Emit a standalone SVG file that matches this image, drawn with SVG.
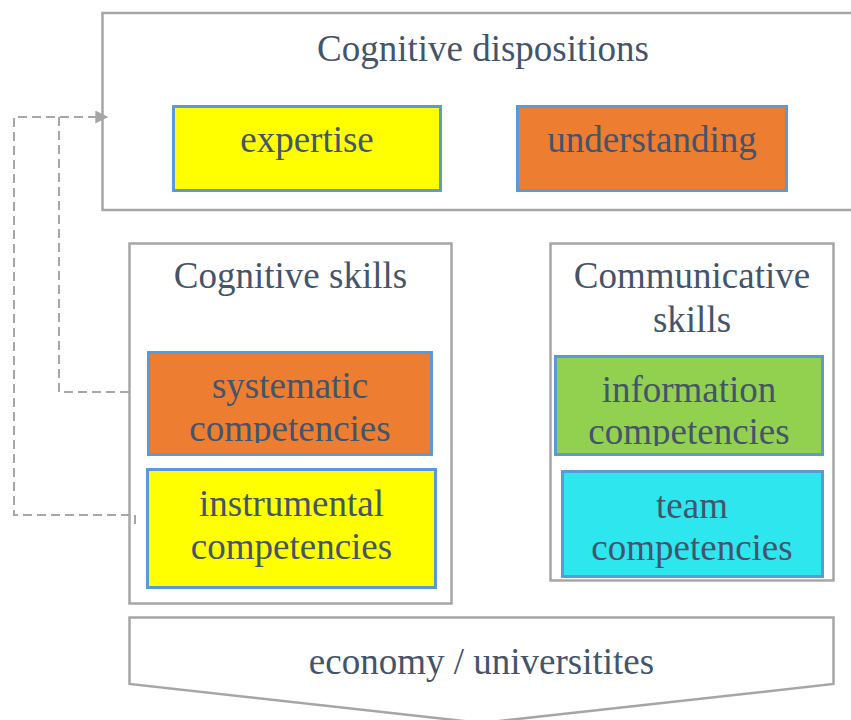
<svg xmlns="http://www.w3.org/2000/svg" width="851" height="720" viewBox="0 0 851 720">
  <style>
    .frame { fill: #ffffff; stroke: #a6a6a6; stroke-width: 2.5; }
    .item { stroke: #5b9bd5; stroke-width: 3; }
    .label { font-family: "Liberation Serif", "Times New Roman", serif; font-size: 37px; fill: #44546a; text-anchor: middle; }
    .link { fill: none; stroke: #a6a6a6; stroke-width: 2; stroke-dasharray: 9 5; }
  </style>
  <defs>
    <marker id="arrow" viewBox="0 0 10 10" refX="9" refY="5" markerWidth="14" markerHeight="13" markerUnits="userSpaceOnUse" orient="auto">
      <path d="M0,0 L10,5 L0,10 Z" fill="#a6a6a6"/>
    </marker>
    <clipPath id="clipSys"><rect x="148" y="352" width="284" height="91"/></clipPath>
    <clipPath id="clipInfo"><rect x="555" y="356" width="268" height="90"/></clipPath>
  </defs>

  <rect width="851" height="720" fill="#ffffff"/>

  <!-- Cognitive dispositions -->
  <g id="cognitive-dispositions">
    <rect class="frame" x="102.5" y="13" width="770" height="197"/>
    <text class="label" x="483" y="61">Cognitive dispositions</text>
  </g>
  <g id="expertise">
    <rect class="item" x="173.5" y="106.5" width="267" height="84" fill="#ffff00"/>
    <text class="label" x="307" y="152">expertise</text>
  </g>
  <g id="understanding">
    <rect class="item" x="517.5" y="106.5" width="269" height="84" fill="#ed7d31"/>
    <text class="label" x="652" y="152">understanding</text>
  </g>

  <!-- Cognitive skills -->
  <g id="cognitive-skills">
    <rect class="frame" x="129.5" y="243.5" width="322" height="360"/>
    <text class="label" x="290.5" y="288">Cognitive skills</text>
  </g>
  <g id="systematic-competencies">
    <rect class="item" x="148.5" y="352.5" width="283" height="102" fill="#ed7d31"/>
    <text class="label" clip-path="url(#clipSys)"><tspan x="290" y="398">systematic</tspan><tspan x="290" y="441">competencies</tspan></text>
  </g>
  <g id="instrumental-competencies">
    <rect class="item" x="147.5" y="469.5" width="288" height="118" fill="#ffff00"/>
    <text class="label"><tspan x="291.5" y="516">instrumental</tspan><tspan x="291.5" y="559">competencies</tspan></text>
  </g>

  <!-- Communicative skills -->
  <g id="communicative-skills">
    <rect class="frame" x="550.5" y="243.5" width="283" height="337"/>
    <text class="label"><tspan x="692" y="288">Communicative</tspan><tspan x="692" y="332">skills</tspan></text>
  </g>
  <g id="information-competencies">
    <rect class="item" x="555.5" y="356.5" width="267" height="98" fill="#92d050"/>
    <text class="label" clip-path="url(#clipInfo)"><tspan x="689" y="402">information</tspan><tspan x="689" y="444">competencies</tspan></text>
  </g>
  <g id="team-competencies">
    <rect class="item" x="562.5" y="471.5" width="260" height="105" fill="#2ee6ee"/>
    <text class="label"><tspan x="692" y="518">team</tspan><tspan x="692" y="560">competencies</tspan></text>
  </g>

  <!-- economy / universities base -->
  <g id="economy-universities">
    <path class="frame" d="M129.5,617.5 H833.5 V684 L481.5,723 L129.5,684 Z"/>
    <text class="label" x="481.5" y="674">economy / universitites</text>
  </g>

  <!-- feedback connectors -->
  <g id="connectors">
    <path class="link" d="M129,392 H59 V117"/>
    <path class="link" d="M135,524 V515 H14 V117 H107" marker-end="url(#arrow)"/>
  </g>
</svg>
